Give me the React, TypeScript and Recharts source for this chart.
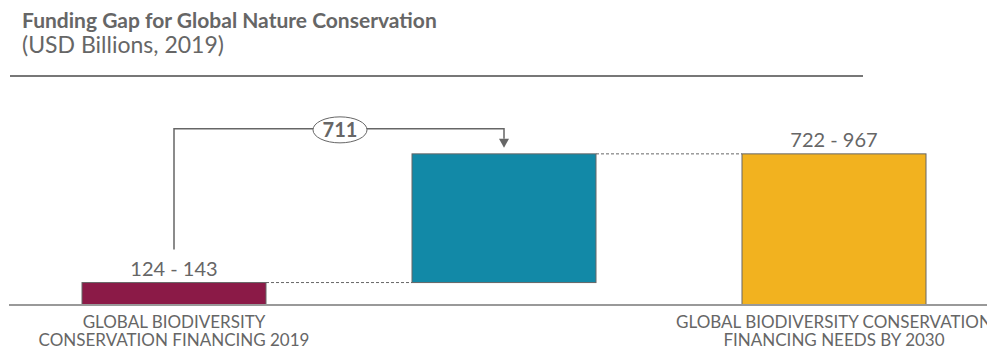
import React from 'react';
import { BarChart, Bar, XAxis, YAxis } from 'recharts';

const categories = ['GLOBAL BIODIVERSITY|CONSERVATION FINANCING 2019', '', 'GLOBAL BIODIVERSITY CONSERVATION|FINANCING NEEDS BY 2030'];
const lows = [0, 124, 0];
const highs = [124, 835, 835];
const valueLabels = ['124 - 143', '', '722 - 967'];
const gapLabel = '711';
const colors = ['#8B1A47', '#1289A7', '#F2B21F'];

const data = categories.map((name, i) => ({ name, range: [lows[i], highs[i]], label: valueLabels[i] }));

const GREY = '#666666';
const BAND = 330;

const BarShape = (props: any) => {
  const { x, y, width, height, index, payload } = props;
  const gap = BAND - width;
  const perUnit = height / (payload.range[1] - payload.range[0]);
  const base = y + height + payload.range[0] * perUnit;
  const cx = x + width / 2;
  const parts: React.ReactNode[] = [];

  parts.push(<rect key="r" x={x} y={y} width={width} height={height} fill={colors[index]} stroke={GREY} strokeWidth={1} />);

  if (index > 0) {
    const ly = index === 1 ? y + height : y;
    parts.push(<line key="c" x1={x - gap} x2={x} y1={ly} y2={ly} stroke={GREY} strokeWidth={1} strokeDasharray="3 2" />);
  }

  if (payload.label) {
    parts.push(
      <text key="t" x={cx} y={y - 7} textAnchor="middle" fontSize={20} fill={GREY} fontFamily="Lato">
        {payload.label}
      </text>
    );
  }

  if (index === 0) {
    // bracket from first bar to the top of the gap bar
    const topNext = base - highs[1] * perUnit;
    const by = topNext - 25;
    const cx2 = cx + BAND;
    const mx = (cx + cx2) / 2 + 1;
    parts.push(
      <g key="b">
        <polyline points={`${cx},${y - 33} ${cx},${by} ${cx2},${by} ${cx2},${topNext - 15}`} fill="none" stroke={GREY} strokeWidth={1.5} />
        <polygon points={`${cx2 - 5},${topNext - 15} ${cx2 + 5},${topNext - 15} ${cx2},${topNext - 6}`} fill={GREY} />
        <ellipse cx={mx} cy={by + 1} rx={27} ry={13} fill="#fff" stroke={GREY} strokeWidth={1} />
        <text x={mx} y={by + 8} textAnchor="middle" fontSize={20} fontWeight="bold" fill={GREY} fontFamily="Lato">
          {gapLabel}
        </text>
      </g>
    );
  }
  return <g>{parts}</g>;
};

const Tick = (props: any) => {
  const { x, payload } = props;
  if (!payload.value) return null;
  const lines = String(payload.value).split('|');
  return (
    <g>
      {lines.map((l, i) => (
        <text key={i} x={x} y={328 + i * 18} textAnchor="middle" fontSize={17} fill={GREY} fontFamily="Lato">
          {l}
        </text>
      ))}
    </g>
  );
};

export default function App() {
  return (
    <div style={{ position: 'absolute', left: 0, top: 0, width: 987, height: 350, overflow: 'hidden', background: '#fff', fontFamily: 'Lato' }}>
      <div style={{ position: 'absolute', left: 22, top: 7, fontSize: 21, fontWeight: 'bold', color: GREY, whiteSpace: 'nowrap' }}>
        Funding Gap for Global Nature Conservation
      </div>
      <div style={{ position: 'absolute', left: 22, top: 30, fontSize: 23, color: GREY, whiteSpace: 'nowrap' }}>
        (USD Billions, 2019)
      </div>
      <div style={{ position: 'absolute', left: 10, top: 75, width: 853, height: 1.5, background: '#777' }} />
      <div style={{ position: 'absolute', left: 0, top: 0 }}>
        <BarChart width={1000} height={350} data={data} margin={{ top: 124, right: 1, bottom: 0, left: 9 }}>
          <XAxis
            dataKey="name"
            interval={0}
            tickLine={false}
            axisLine={{ stroke: '#999', strokeWidth: 2 }}
            tick={<Tick />}
            height={45}
          />
          <YAxis hide domain={[0, 1000]} />
          <Bar dataKey="range" barSize={184} shape={<BarShape />} isAnimationActive={false} />
        </BarChart>
      </div>
    </div>
  );
}
